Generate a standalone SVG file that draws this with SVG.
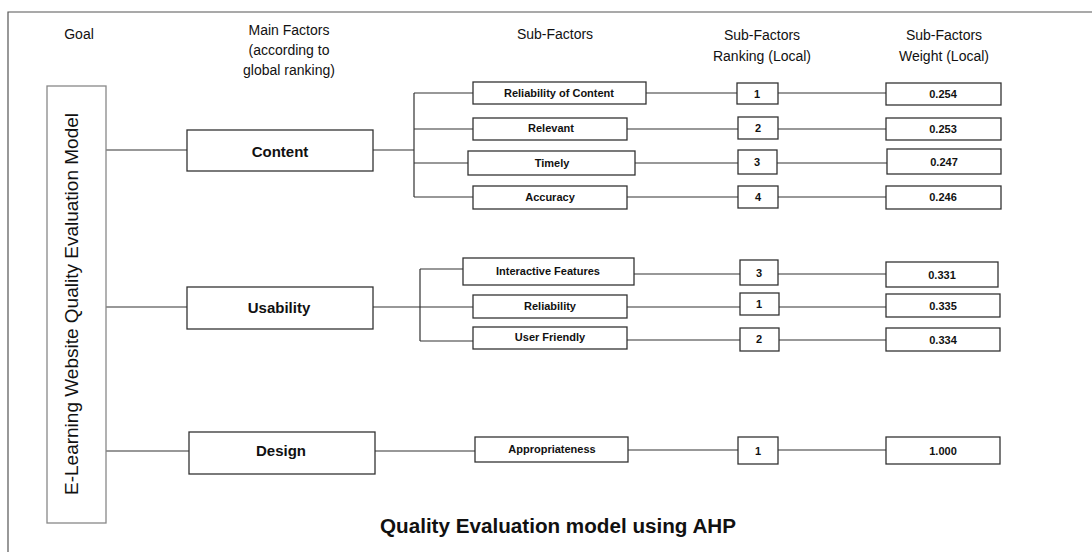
<svg xmlns="http://www.w3.org/2000/svg" width="1092" height="552" viewBox="0 0 1092 552">
<style>
.box{fill:#fff;stroke:#333;stroke-width:1.3}
.gbox{fill:#fff;stroke:#888;stroke-width:1.3}
.ln{stroke:#333;stroke-width:1.2;fill:none}
.hd{font-family:"Liberation Sans",Arial,sans-serif;font-size:14px;fill:#111;text-anchor:middle}
.mf{font-family:"Liberation Sans",Arial,sans-serif;font-size:15px;font-weight:bold;fill:#111;text-anchor:middle}
.sf{font-family:"Liberation Sans",Arial,sans-serif;font-size:11px;font-weight:bold;fill:#111;text-anchor:middle}
</style>
<rect width="1092" height="552" fill="#fff"/>
<path d="M8 552 V12 H1092" fill="none" stroke="#555" stroke-width="1.2"/>
<g id="headers">
<text class="hd" x="79" y="39">Goal</text>
<text class="hd" x="289" y="35">Main Factors</text>
<text class="hd" x="289" y="55">(according to</text>
<text class="hd" x="289" y="75">global ranking)</text>
<text class="hd" x="555" y="39">Sub-Factors</text>
<text class="hd" x="762" y="40">Sub-Factors</text>
<text class="hd" x="762" y="61">Ranking (Local)</text>
<text class="hd" x="944" y="40">Sub-Factors</text>
<text class="hd" x="944" y="61">Weight (Local)</text>
</g>
<g id="connectors">
<path class="ln" d="M106 150H187M106 307H187M106 451H189"/>
<path class="ln" d="M373 150H414M414 93V197M414 93H473M414 129H473M414 163H468M414 197H473"/>
<path class="ln" d="M646 93H737M778 93H886M627 129H738M778 129H886M635 163H738M777 163H887M627 197H738M778 197H886"/>
<path class="ln" d="M373 307H473M420 269V341M420 269H463M420 341H473"/>
<path class="ln" d="M634 274H740M778 274H886M627 307H740M779 307H886M627 340H740M779 340H886"/>
<path class="ln" d="M375 451H475M628 450H738M778 450H886"/>
</g>
<g id="goal">
<rect class="gbox" x="47" y="86" width="59" height="437"/>
<text font-family="Liberation Sans, Arial, sans-serif" font-size="18" fill="#111" text-anchor="middle" transform="translate(78 304) rotate(-90)" textLength="382" lengthAdjust="spacingAndGlyphs">E-Learning Website Quality Evaluation Model</text>
</g>
<g id="content">
<rect class="box" x="187" y="130" width="186" height="41"/>
<text class="mf" x="280" y="157">Content</text>
</g>
<g id="usability">
<rect class="box" x="187" y="287" width="186" height="42"/>
<text class="mf" x="279" y="313">Usability</text>
</g>
<g id="design">
<rect class="box" x="189" y="432" width="186" height="42"/>
<text class="mf" x="281" y="456">Design</text>
</g>
<g id="sf-reliability-of-content"><rect class="box" x="473" y="82" width="173" height="22"/><text class="sf" x="559" y="97">Reliability of Content</text></g>
<g id="sf-relevant"><rect class="box" x="473" y="118" width="154" height="22"/><text class="sf" x="551" y="132">Relevant</text></g>
<g id="sf-timely"><rect class="box" x="468" y="151" width="167" height="24"/><text class="sf" x="552" y="167">Timely</text></g>
<g id="sf-accuracy"><rect class="box" x="473" y="186" width="154" height="23"/><text class="sf" x="550" y="201">Accuracy</text></g>
<g id="rk-1a"><rect class="box" x="737" y="83" width="41" height="21"/><text class="sf" x="757" y="98">1</text></g>
<g id="rk-2a"><rect class="box" x="738" y="117" width="40" height="22"/><text class="sf" x="758" y="132">2</text></g>
<g id="rk-3a"><rect class="box" x="738" y="150" width="39" height="24"/><text class="sf" x="757" y="166">3</text></g>
<g id="rk-4a"><rect class="box" x="738" y="186" width="40" height="22"/><text class="sf" x="758" y="201">4</text></g>
<g id="wt-0254"><rect class="box" x="886" y="83" width="115" height="22"/><text class="sf" x="943" y="98">0.254</text></g>
<g id="wt-0253"><rect class="box" x="886" y="118" width="115" height="22"/><text class="sf" x="943" y="133">0.253</text></g>
<g id="wt-0247"><rect class="box" x="887" y="149" width="114" height="25"/><text class="sf" x="944" y="166">0.247</text></g>
<g id="wt-0246"><rect class="box" x="886" y="186" width="115" height="23"/><text class="sf" x="943" y="201">0.246</text></g>
<g id="sf-interactive"><rect class="box" x="463" y="258" width="171" height="27"/><text class="sf" x="548" y="275">Interactive Features</text></g>
<g id="sf-reliability"><rect class="box" x="473" y="295" width="154" height="23"/><text class="sf" x="550" y="310">Reliability</text></g>
<g id="sf-userfriendly"><rect class="box" x="473" y="327" width="154" height="22"/><text class="sf" x="550" y="341">User Friendly</text></g>
<g id="rk-3b"><rect class="box" x="740" y="260" width="38" height="25"/><text class="sf" x="759" y="277">3</text></g>
<g id="rk-1b"><rect class="box" x="740" y="293" width="39" height="22"/><text class="sf" x="759" y="308">1</text></g>
<g id="rk-2b"><rect class="box" x="740" y="328" width="39" height="23"/><text class="sf" x="759" y="343">2</text></g>
<g id="wt-0331"><rect class="box" x="886" y="262" width="112" height="25"/><text class="sf" x="942" y="279">0.331</text></g>
<g id="wt-0335"><rect class="box" x="886" y="294" width="114" height="23"/><text class="sf" x="943" y="310">0.335</text></g>
<g id="wt-0334"><rect class="box" x="886" y="328" width="114" height="23"/><text class="sf" x="943" y="344">0.334</text></g>
<g id="sf-appropriateness"><rect class="box" x="475" y="437" width="153" height="25"/><text class="sf" x="552" y="453">Appropriateness</text></g>
<g id="rk-1c"><rect class="box" x="738" y="437" width="40" height="27"/><text class="sf" x="758" y="455">1</text></g>
<g id="wt-1000"><rect class="box" x="886" y="437" width="114" height="27"/><text class="sf" x="943" y="455">1.000</text></g>
<text font-family="Liberation Sans, Arial, sans-serif" font-size="20" font-weight="bold" fill="#111" x="380" y="533" textLength="356" lengthAdjust="spacingAndGlyphs">Quality Evaluation model using AHP</text>
</svg>
